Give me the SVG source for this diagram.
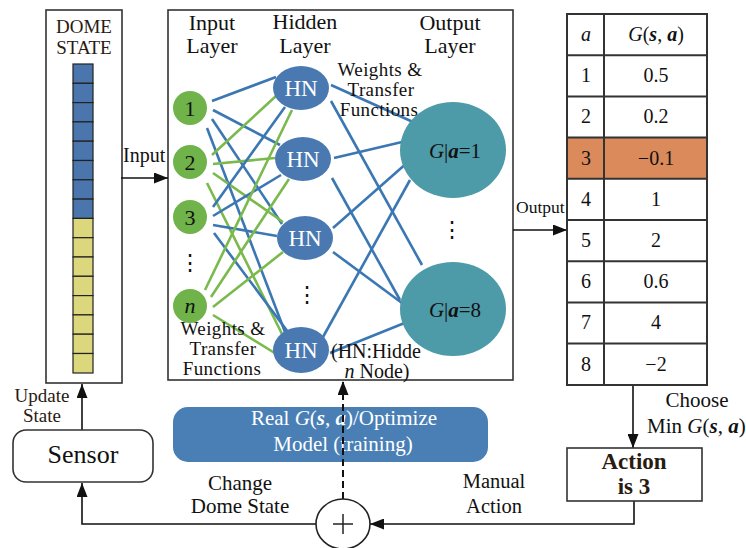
<svg xmlns="http://www.w3.org/2000/svg" width="746" height="548" viewBox="0 0 746 548" font-family="'Liberation Serif', 'Times New Roman', Tinos, 'DejaVu Serif', serif">
  <style>
    text { fill: #111; }
    .box { fill: #fff; stroke: #333; stroke-width: 1.6; }
    .cellB { fill: #4a76ad; stroke: #222; stroke-width: 1.2; }
    .cellY { fill: #dcd77c; stroke: #222; stroke-width: 1.2; }
    .inp { fill: #6fb34a; }
    .hid { fill: #4a79b2; }
    .out { fill: #4d9aa8; }
    .wb { stroke: #3b77b3; stroke-width: 2.6; }
    .wg { stroke: #7ab94c; stroke-width: 2.6; }
    .arrow { fill: none; stroke: #111; stroke-width: 1.6; }
    .grid { stroke: #333; stroke-width: 2; fill: none; }
    .layer { font-size: 22px; text-anchor: middle; }
    .wt { font-size: 19px; text-anchor: middle; letter-spacing: 0.4px; }
    .hn { font-size: 23px; text-anchor: middle; }
    .num { font-size: 22px; text-anchor: middle; }
    .tc { font-size: 20px; text-anchor: middle; }
    .brown { fill: #2a1a10; }
    .white { fill: #fff; }
  </style>
  <defs>
    <marker id="head" viewBox="0 0 14 11" refX="14" refY="5.5" markerWidth="14" markerHeight="11" markerUnits="userSpaceOnUse" orient="auto">
      <path d="M0,0 L14,5.5 L0,11 z" fill="#111"/>
    </marker>
  </defs>

  <!-- dome state column -->
  <g id="dome-state">
    <rect class="box" x="46" y="10" width="76" height="373"/>
    <text class="brown" x="84" y="33" font-size="19" text-anchor="middle">DOME</text>
    <text class="brown" x="84" y="54" font-size="19" text-anchor="middle">STATE</text>
    <rect class="cellB" x="73" y="64" width="20" height="19.3"/>
    <rect class="cellB" x="73" y="83.3" width="20" height="19.3"/>
    <rect class="cellB" x="73" y="102.6" width="20" height="19.3"/>
    <rect class="cellB" x="73" y="121.9" width="20" height="19.3"/>
    <rect class="cellB" x="73" y="141.2" width="20" height="19.3"/>
    <rect class="cellB" x="73" y="160.5" width="20" height="19.3"/>
    <rect class="cellB" x="73" y="179.8" width="20" height="19.3"/>
    <rect class="cellB" x="73" y="199.1" width="20" height="19.3"/>
    <rect class="cellY" x="73" y="218.4" width="20" height="19.3"/>
    <rect class="cellY" x="73" y="237.7" width="20" height="19.3"/>
    <rect class="cellY" x="73" y="257" width="20" height="19.3"/>
    <rect class="cellY" x="73" y="276.3" width="20" height="19.3"/>
    <rect class="cellY" x="73" y="295.6" width="20" height="19.3"/>
    <rect class="cellY" x="73" y="314.9" width="20" height="19.3"/>
    <rect class="cellY" x="73" y="334.2" width="20" height="19.3"/>
    <rect class="cellY" x="73" y="353.5" width="20" height="19.5"/>
  </g>

  <!-- neural network frame -->
  <g id="network">
    <rect class="box" x="168" y="10" width="345" height="370"/>
    <text class="layer" x="212" y="30">Input</text>
    <text class="layer" x="212" y="53">Layer</text>
    <text class="layer" x="305" y="29">Hidden</text>
    <text class="layer" x="305" y="53">Layer</text>
    <text class="layer" x="450" y="30">Output</text>
    <text class="layer" x="450" y="53">Layer</text>
  </g>

  <!-- weighted links between layers -->
  <g id="connectors">
    <g id="links-input-hidden">
      <line class="wb" x1="212" y1="101" x2="276" y2="77"/>
      <line class="wb" x1="213" y1="110" x2="280" y2="145"/>
      <line class="wb" x1="212" y1="119" x2="282" y2="224"/>
      <line class="wb" x1="207" y1="128" x2="285" y2="332"/>
      <line class="wg" x1="212" y1="155" x2="276" y2="96"/>
      <line class="wg" x1="213" y1="164" x2="275" y2="158"/>
      <line class="wg" x1="213" y1="173" x2="283" y2="222"/>
      <line class="wg" x1="207" y1="183" x2="283" y2="336"/>
      <line class="wb" x1="213" y1="207" x2="285" y2="107"/>
      <line class="wb" x1="213" y1="216" x2="281" y2="175"/>
      <line class="wb" x1="213" y1="225" x2="277" y2="236"/>
      <line class="wb" x1="214" y1="233" x2="288" y2="332"/>
      <line class="wg" x1="205" y1="290" x2="292" y2="110"/>
      <line class="wg" x1="211" y1="297" x2="289" y2="179"/>
      <line class="wg" x1="213" y1="307" x2="283" y2="252"/>
      <line class="wg" x1="213" y1="315" x2="278" y2="355"/>
    </g>
    <g id="links-hidden-output">
      <line class="wb" x1="331" y1="85" x2="413" y2="122"/>
      <line class="wb" x1="331" y1="101" x2="422" y2="265"/>
      <line class="wb" x1="334" y1="158" x2="402" y2="142"/>
      <line class="wb" x1="332" y1="178" x2="400" y2="300"/>
      <line class="wb" x1="333" y1="228" x2="408" y2="162"/>
      <line class="wb" x1="333" y1="252" x2="402" y2="303"/>
      <line class="wb" x1="323" y1="337" x2="410" y2="180"/>
      <line class="wb" x1="330" y1="353" x2="407" y2="322"/>
    </g>
    <g id="flow-arrows">
      <line class="arrow" x1="121" y1="178" x2="168" y2="178" marker-end="url(#head)"/>
      <line class="arrow" x1="513" y1="230" x2="567" y2="230" marker-end="url(#head)"/>
      <line class="arrow" x1="633" y1="386" x2="633" y2="448" marker-end="url(#head)"/>
      <polyline class="arrow" points="634,501 634,524 370,524" marker-end="url(#head)"/>
      <polyline class="arrow" points="316,524 82,524 82,483" marker-end="url(#head)"/>
      <line class="arrow" x1="82" y1="430" x2="82" y2="384" marker-end="url(#head)"/>
    </g>
  </g>

  <!-- input layer nodes -->
  <g id="input-1"><circle class="inp" cx="190" cy="108" r="17"/><text class="num" x="190" y="116">1</text></g>
  <g id="input-2"><circle class="inp" cx="190" cy="162" r="17"/><text class="num" x="190" y="170">2</text></g>
  <g id="input-3"><circle class="inp" cx="190" cy="217" r="17"/><text class="num" x="190" y="225">3</text></g>
  <g id="input-dots"><text class="num" x="190" y="270">⋮</text></g>
  <g id="input-n"><circle class="inp" cx="190" cy="306" r="17"/><text class="num" x="190" y="313" font-style="italic">n</text></g>

  <!-- hidden layer nodes -->
  <g id="hidden-1"><ellipse class="hid" cx="301" cy="88" rx="28" ry="22"/><text class="hn white" x="301" y="96">HN</text></g>
  <g id="hidden-2"><ellipse class="hid" cx="303" cy="159" rx="28" ry="22"/><text class="hn white" x="303" y="167">HN</text></g>
  <g id="hidden-3"><ellipse class="hid" cx="305" cy="238" rx="28" ry="22"/><text class="hn white" x="305" y="246">HN</text></g>
  <g id="hidden-dots"><text class="num" x="307" y="302">⋮</text></g>
  <g id="hidden-4"><ellipse class="hid" cx="301" cy="350" rx="28" ry="23"/><text class="hn white" x="301" y="358">HN</text></g>

  <!-- output layer nodes -->
  <g id="output-1"><ellipse class="out" cx="453" cy="150" rx="53" ry="48"/>
    <text x="455" y="158" font-size="21" text-anchor="middle"><tspan font-style="italic">G</tspan>|<tspan font-style="italic" font-weight="bold">a</tspan>=1</text></g>
  <g id="output-dots"><text class="num" x="452" y="237">⋮</text></g>
  <g id="output-8"><ellipse class="out" cx="453" cy="309" rx="53" ry="47"/>
    <text x="455" y="317" font-size="21" text-anchor="middle"><tspan font-style="italic">G</tspan>|<tspan font-style="italic" font-weight="bold">a</tspan>=8</text></g>

  <!-- annotations inside the network frame -->
  <g id="weights-upper">
    <text class="wt" x="380" y="76">Weights &amp;</text>
    <text class="wt" x="381" y="96">Transfer</text>
    <text class="wt" x="379" y="116">Functions</text>
  </g>
  <g id="weights-lower">
    <text class="wt" x="223" y="335">Weights &amp;</text>
    <text class="wt" x="223" y="355">Transfer</text>
    <text class="wt" x="222" y="375">Functions</text>
  </g>
  <g id="hn-note">
    <text x="376" y="358" font-size="20" text-anchor="middle">(HN:Hidde</text>
    <text x="377" y="378" font-size="20" text-anchor="middle"><tspan font-style="italic">n</tspan> Node)</text>
  </g>

  <!-- arrow labels -->
  <g id="labels">
    <text x="123" y="162" font-size="20">Input</text>
    <text x="516" y="213" font-size="17.5">Output</text>
    <text x="697" y="407" font-size="21" text-anchor="middle">Choose</text>
    <text x="647" y="433" font-size="21">Min <tspan font-style="italic">G</tspan>(<tspan font-style="italic" font-weight="bold">s</tspan>, <tspan font-style="italic" font-weight="bold">a</tspan>)</text>
    <text class="brown" x="42" y="402" font-size="19" text-anchor="middle">Update</text>
    <text class="brown" x="42" y="422" font-size="19" text-anchor="middle">State</text>
    <text x="240" y="490" font-size="21" text-anchor="middle">Change</text>
    <text x="240" y="513" font-size="21" text-anchor="middle">Dome State</text>
    <text x="494" y="488" font-size="20.5" text-anchor="middle">Manual</text>
    <text x="494" y="513" font-size="20.5" text-anchor="middle">Action</text>
  </g>

  <!-- action value table -->
  <g id="g-table">
    <rect x="567" y="137.5" width="140" height="41.3" fill="#da8a5b"/>
    <rect class="grid" x="567" y="14" width="140" height="371"/>
    <line class="grid" x1="604" y1="14" x2="604" y2="385"/>
    <line class="grid" x1="567" y1="55.2" x2="707" y2="55.2"/>
    <line class="grid" x1="567" y1="96.4" x2="707" y2="96.4"/>
    <line class="grid" x1="567" y1="137.6" x2="707" y2="137.6"/>
    <line class="grid" x1="567" y1="178.8" x2="707" y2="178.8"/>
    <line class="grid" x1="567" y1="220" x2="707" y2="220"/>
    <line class="grid" x1="567" y1="261.2" x2="707" y2="261.2"/>
    <line class="grid" x1="567" y1="302.4" x2="707" y2="302.4"/>
    <line class="grid" x1="567" y1="343.6" x2="707" y2="343.6"/>
    <text class="tc" x="586" y="41" font-style="italic">a</text>
    <text class="tc" x="656" y="41"><tspan font-style="italic">G</tspan>(<tspan font-style="italic" font-weight="bold">s</tspan>, <tspan font-style="italic" font-weight="bold">a</tspan>)</text>
    <text class="tc" x="586" y="82">1</text><text class="tc" x="656" y="82">0.5</text>
    <text class="tc" x="586" y="123">2</text><text class="tc" x="656" y="123">0.2</text>
    <text class="tc" x="586" y="165">3</text><text class="tc" x="656" y="165">−0.1</text>
    <text class="tc" x="586" y="206">4</text><text class="tc" x="656" y="206">1</text>
    <text class="tc" x="586" y="247">5</text><text class="tc" x="656" y="247">2</text>
    <text class="tc" x="586" y="288">6</text><text class="tc" x="656" y="288">0.6</text>
    <text class="tc" x="586" y="329">7</text><text class="tc" x="656" y="329">4</text>
    <text class="tc" x="586" y="371">8</text><text class="tc" x="656" y="371">−2</text>
  </g>

  <!-- chosen action -->
  <g id="action">
    <rect class="box" x="567" y="448" width="135" height="53"/>
    <text class="brown" x="634" y="469" font-size="23" font-weight="bold" text-anchor="middle">Action</text>
    <text class="brown" x="634" y="494" font-size="23" font-weight="bold" text-anchor="middle">is 3</text>
  </g>

  <!-- sensor -->
  <g id="sensor">
    <rect class="box" x="13" y="430" width="140" height="52" rx="13"/>
    <text x="83" y="463" font-size="26" text-anchor="middle">Sensor</text>
  </g>

  <!-- training bar -->
  <g id="training">
    <rect x="173" y="407" width="315" height="55" rx="15" fill="#4a7fb6"/>
    <text class="white" x="344" y="425" font-size="21" text-anchor="middle">Real <tspan font-style="italic">G</tspan>(<tspan font-style="italic" font-weight="bold">s</tspan>, <tspan font-style="italic" font-weight="bold">a</tspan>)/Optimize</text>
    <text class="white" x="343" y="451" font-size="21" text-anchor="middle">Model (training)</text>
  </g>

  <!-- dashed training feedback -->
  <g id="feedback">
    <line x1="343" y1="499" x2="343" y2="381" stroke="#111" stroke-width="2" stroke-dasharray="7 4" marker-end="url(#head)"/>
  </g>

  <!-- summing junction -->
  <g id="junction">
    <ellipse cx="343" cy="524" rx="27" ry="25" fill="#fff" stroke="#222" stroke-width="1.6"/>
    <line x1="333" y1="524" x2="353" y2="524" stroke="#222" stroke-width="1.5"/>
    <line x1="343" y1="514" x2="343" y2="534" stroke="#222" stroke-width="1.5"/>
  </g>
</svg>
